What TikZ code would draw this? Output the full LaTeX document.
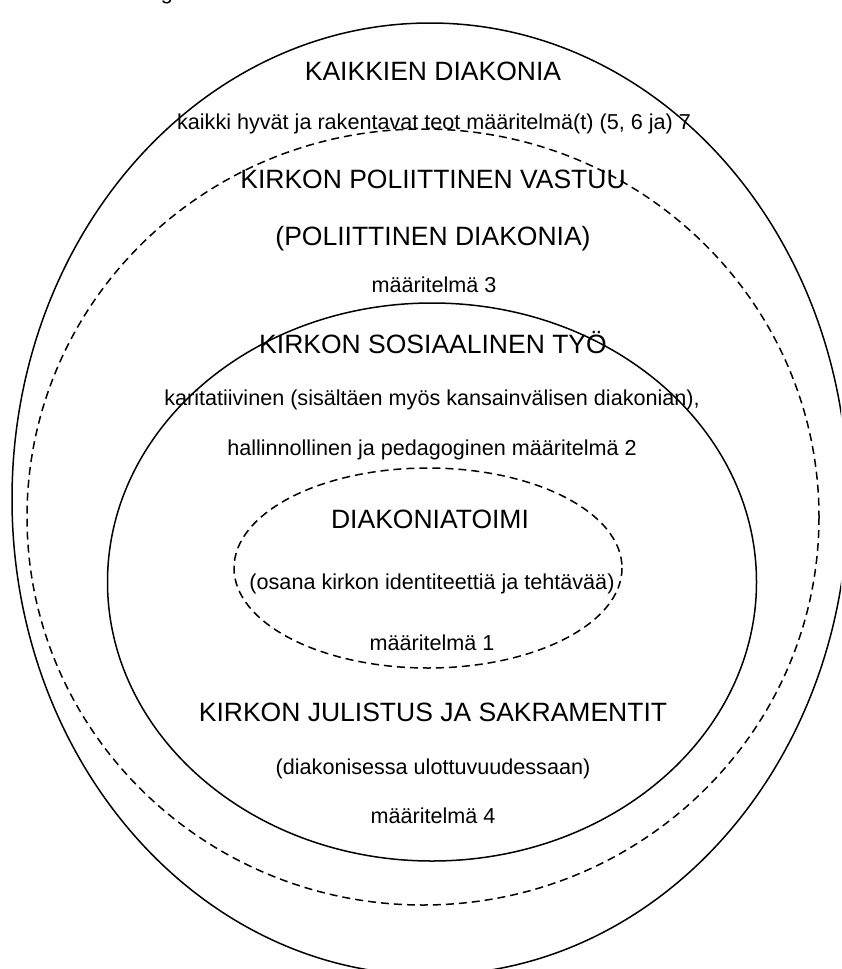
\documentclass[tikz,border=0pt]{standalone}
\usepackage{fontspec}
\setmainfont{Liberation Sans}
\begin{document}
\begin{tikzpicture}[x=1pt,y=-1pt,
  ring/.style={line width=1.5pt},
  dashring/.style={line width=1.5pt, dash pattern=on 8pt off 5pt},
  head/.style={font=\fontsize{26.5}{30}\selectfont, inner sep=0pt, anchor=base},
  sub/.style={font=\fontsize{21.6}{25}\selectfont, inner sep=0pt, anchor=base}]
\useasboundingbox (0,0) rectangle (841,969);
\begin{scope}
\clip (0,0) rectangle (841,969);
\node[sub] (gfrag) at (167,-1) {g};
\draw[ring] (430,499) ellipse [x radius=418, y radius=476];
\draw[dashring] (423,517) ellipse [x radius=396, y radius=388];
\draw[ring] (432,582) ellipse [x radius=324.5, y radius=279];
\draw[dashring] (428,568) ellipse [x radius=194, y radius=100];
\end{scope}
\node[head] (t1) at (433,80) {KAIKKIEN DIAKONIA};
\node[sub] (t2) at (434,129) {kaikki hyvät ja rakentavat teot määritelmä(t) (5, 6 ja) 7};
\node[head] (t3) at (433,188) {KIRKON POLIITTINEN VASTUU};
\node[head] (t4) at (433,245) {(POLIITTINEN DIAKONIA)};
\node[sub] (t5) at (434,292) {määritelmä 3};
\node[head] (t6) at (433,353) {KIRKON SOSIAALINEN TYÖ};
\node[sub] (t7) at (432,405) {karitatiivinen (sisältäen myös kansainvälisen diakonian),};
\node[sub] (t8) at (432,455) {hallinnollinen ja pedagoginen määritelmä 2};
\node[head] (t9) at (430,528) {DIAKONIATOIMI};
\node[sub] (t10) at (432,589) {(osana kirkon identiteettiä ja tehtävää)};
\node[sub] (t11) at (432,650) {määritelmä 1};
\node[head] (t12) at (433,721) {KIRKON JULISTUS JA SAKRAMENTIT};
\node[sub] (t13) at (433,774) {(diakonisessa ulottuvuudessaan)};
\node[sub] (t14) at (433,823) {määritelmä 4};
\end{tikzpicture}
\end{document}
